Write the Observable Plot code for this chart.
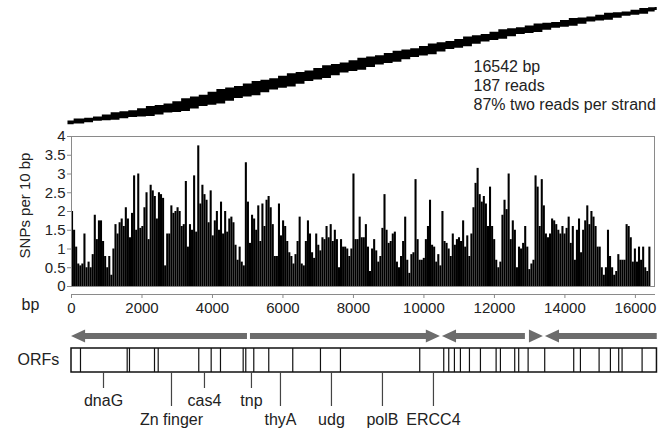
<!DOCTYPE html>
<html><head><meta charset="utf-8">
<script src="https://cdn.jsdelivr.net/npm/d3@7"></script>
<script src="https://cdn.jsdelivr.net/npm/@observablehq/plot@0.6"></script>
<style>
html,body{margin:0;padding:0;background:#fff;}
#chart{position:relative;width:670px;height:428px;overflow:hidden;}
#chart svg{position:absolute;left:0;overflow:visible;}
</style></head><body><div id="chart"></div>
<script>
const FONT = '"Liberation Sans", Arial, Helvetica, sans-serif';
const genomeLength = 16542;
const snpEnd = 16440;
const snpPerTenBp = [
 2.0,1.5,1.05,0.6,0.55,0.6,1.4,0.5,0.65,0.5,0.85,1.9,1.25,1.75,1.75,1.2,0.8,0.5,0.8,0.3,1.0,1.65,1.4,1.7,1.8,1.6,2.1,1.8,1.3,1.95,2.95,1.5,3.0,1.55,1.6,2.1,2.5,1.25,2.7,2.55,2.4,1.8,2.5,2.45,2.35,
 0.55,1.4,1.4,2.15,1.95,2.0,2.1,2.0,1.6,1.65,2.8,1.05,1.65,1.5,2.95,1.45,3.75,2.2,2.7,2.45,2.3,1.7,2.55,1.35,1.75,2.0,1.5,2.25,1.4,2.0,1.45,1.8,1.85,1.7,1.1,0.7,1.05,0.65,0.55,3.3,2.25,1.15,1.9,1.8,1.5,2.15,1.2,
 2.2,1.6,2.3,2.4,2.1,1.65,0.8,0.8,2.2,1.35,1.75,1.6,1.2,0.9,0.8,0.6,0.85,1.2,1.85,0.6,0.55,1.2,1.75,1.4,0.9,0.75,1.4,1.1,0.95,1.3,1.25,1.6,1.3,1.65,1.2,1.5,1.25,0.5,1.25,1.05,1.05,1.0,0.8,1.0,3.0,1.25,1.25,1.85,1.3,
 1.3,1.65,1.05,0.4,1.0,1.25,0.95,0.65,0.8,1.55,2.45,1.5,1.15,1.2,1.4,1.45,0.65,0.5,0.8,1.2,1.85,0.7,0.35,0.85,0.9,2.85,1.25,0.7,0.7,0.75,1.25,1.6,2.3,1.1,1.05,0.65,0.85,0.55,2.0,1.2,1.15,1.0,0.8,1.4,1.1,1.25,
 1.3,1.2,1.75,1.05,1.35,0.8,1.4,2.1,2.75,3.15,2.45,2.25,2.4,2.2,1.6,2.65,1.6,1.25,0.7,0.5,0.65,1.9,2.3,2.05,3.0,1.25,1.75,1.5,0.5,1.05,1.0,1.15,1.6,1.05,0.45,0.6,0.7,2.95,2.65,1.6,2.85,2.15,1.4,1.3,1.4,1.8,
 1.75,1.65,1.5,1.4,1.6,1.4,1.55,1.85,1.15,1.6,0.7,1.5,1.8,0.9,1.5,1.75,2.15,1.65,2.0,1.85,1.6,1.05,1.05,0.5,0.3,0.5,1.5,0.8,0.5,0.3,0.4,0.85,0.7,0.7,0.7,1.65,1.6,1.3,0.65,1.0,0.65,1.05,0.7,1.05,0.5,0.4,1.05
];
const yTicks = [0,0.5,1,1.5,2,2.5,3,3.5,4];
const xTicks = [0,2000,4000,6000,8000,10000,12000,14000,16000];
const tileBp = [-100,250,500,750,1000,1250,1500,1750,2000,2250,2500,2750,3000,3250,3500,3750,4000,4250,4500,4750,5000,5250,5500,5750,6000,6250,6500,6750,7000,7250,7500,7750,8000,8250,8500,8750,9000,9250,9500,9750,10000,10250,10500,10750,11000,11250,11500,11750,12000,12250,12500,12750,13000,13250,13500,13750,14000,14250,14500,14750,15000,15250,15500,15750,16000,16250,16500,16620];
const tileLow = [1.0,2.2,4.4,6.8,7.6,8.2,10.7,12.9,13.7,14.5,16.9,19.8,20.7,22.4,26.4,30.3,32.2,34.3,38.7,43.0,45.4,47.6,52.4,56.9,59.4,61.6,66.1,70.3,72.9,75.0,79.6,83.8,86.3,88.2,92.6,96.6,98.9,101.0,105.0,108.8,111.1,113.2,117.4,121.3,123.6,125.7,129.7,133.5,135.8,137.9,141.9,145.3,147.1,148.7,152.2,155.4,157.0,158.5,162.0,165.3,167.1,168.4,171.6,174.7,176.3,178.0,181.6,184.0];
const tileHigh = [7.0,10.3,11.6,13.4,16.8,20.4,21.9,23.6,26.9,30.5,32.1,34.2,37.9,42.8,45.6,48.5,53.0,57.5,59.9,62.2,66.2,70.3,72.4,74.7,78.6,82.8,84.9,87.3,91.3,95.5,97.6,99.8,103.5,107.5,109.4,111.4,114.9,118.8,120.6,122.7,126.3,130.3,132.2,134.1,137.6,141.5,143.3,145.4,149.0,152.9,154.7,156.1,159.1,162.3,163.4,164.8,167.8,170.9,172.0,173.4,176.3,179.4,180.4,181.6,184.3,187.1,188.0,188.5];
const readCount = 187;
const summaryLines = ["16542 bp","187 reads","87% two reads per strand"];
const strandTail = [4993,5078,12879,12993,16620];
const strandTip  = [0,10468,10525,13390,13447];
const orfEnd = 16612;
const orfBoundaries = [255,1580,1645,2355,2460,3611,3963,4227,4871,4945,5172,5597,6278,7064,7631,9881,10562,10704,10865,11035,11291,11603,12048,12170,12576,12689,12956,13427,14250,14440,14970,15291,15526,15622,16190];
const geneNames = ["dnaG","Zn finger","cas4","tnp","thyA","udg","polB","ERCC4"];
const genePos   = [908,2837,3773,5106,5929,7376,8823,10270];

const root = document.getElementById("chart");
const W = 670;
const xs = {domain:[0,genomeLength], range:[71,654], axis:null};
function place(svg, top){ svg.style.top = top+"px"; root.appendChild(svg); }

// top: read tiling
const tileData = tileBp.map((x,i)=>({x, lo:tileLow[i], hi:tileHigh[i]}));
place(Plot.plot({
  width:W, height:130, marginLeft:71, marginRight:16, marginTop:8, marginBottom:5,
  style:{fontFamily:FONT, fontSize:"16px", background:"transparent", overflow:"visible"},
  x:xs, y:{domain:[0,readCount], axis:null},
  marks:[
    Plot.areaY(tileData,{x:"x", y1:"lo", y2:"hi", fill:"black", curve:"step"}),
    Plot.text([summaryLines.join("\n")],{frameAnchor:"top-left", dx:402, dy:50, textAnchor:"start", lineAnchor:"top", lineHeight:1.19, fill:"#222"})
  ]
}), 0);

// middle: SNP density
const binW = snpEnd / snpPerTenBp.length;
const bins = snpPerTenBp.map((v,i)=>({x1:i*binW, x2:(i+1)*binW, v}));
place(Plot.plot({
  width:W, height:200, marginLeft:71, marginRight:16, marginTop:11, marginBottom:39,
  style:{fontFamily:FONT, fontSize:"16px", color:"#222", background:"transparent", overflow:"visible"},
  x:{domain:[0,genomeLength], range:[71,654]}, y:{domain:[0,4]},
  marks:[
    Plot.rectY(bins,{x1:"x1", x2:"x2", y:"v", fill:"black"}),
    Plot.frame({stroke:"#8a8a8a"}),
    Plot.axisY({ticks:yTicks, tickSize:4, tickPadding:2, tickFormat:d=>String(d), label:null, stroke:"#8a8a8a", fill:"#222", fontSize:15}),
    Plot.axisX({ticks:xTicks, tickSize:4, tickPadding:4, dy:8, tickFormat:d=>String(d), label:null, stroke:"#8a8a8a", fill:"#222", fontSize:15}),
    Plot.frame({anchor:"bottom", dy:8, stroke:"#8a8a8a"}),
    Plot.text(["SNPs per 10 bp"],{frameAnchor:"left", dx:-46, dy:-6, rotate:-90, textAnchor:"middle", fill:"#222", fontSize:15}),
    Plot.text(["bp"],{frameAnchor:"bottom-left", dx:-41, dy:23, textAnchor:"middle", fill:"#222"})
  ]
}), 125);

// bottom: strands and ORFs
const arrowY = 21, shaftH = 3, headH = 6.5, headLen = 400;
const arrowPts = strandTail.flatMap((tail,i)=>{
  const tip = strandTip[i], dir = Math.sign(tip-tail);
  const hl = Math.min(headLen, Math.abs(tip-tail)), base = tip - dir*hl;
  const pts = [{x:tail,h:shaftH},{x:base,h:shaftH},{x:base,h:headH},{x:tip,h:0}];
  if (dir < 0) pts.reverse();
  return pts.map(p=>({...p, id:i}));
});
const upperTier = new Set(["dnaG","cas4","tnp"]);
const genes = geneNames.map((name,i)=>({name, pos:genePos[i], up:upperTier.has(name)}));
place(Plot.plot({
  width:W, height:113, marginLeft:71, marginRight:16, marginTop:0, marginBottom:0,
  style:{fontFamily:FONT, fontSize:"16px", background:"transparent", overflow:"visible"},
  x:xs, y:{domain:[0,113], range:[0,113], axis:null},
  marks:[
    Plot.areaY(arrowPts,{x:"x", y1:d=>arrowY-d.h, y2:d=>arrowY+d.h, z:"id", fill:"#6c6c6c"}),
    Plot.rect([{x1:0,x2:orfEnd}],{x1:"x1", x2:"x2", y1:33, y2:57, fill:"white", stroke:"#111", strokeWidth:1.5}),
    Plot.ruleX(orfBoundaries,{y1:33, y2:57, stroke:"#111", strokeWidth:1.2}),
    Plot.ruleX(genes,{x:"pos", y1:57, y2:d=>d.up?73:91, stroke:"#444", strokeWidth:1.2}),
    Plot.text(genes,{x:"pos", y:d=>d.up?85:104, text:"name", fill:"#222"}),
    Plot.text(["ORFs"],{frameAnchor:"left", y:44, dx:-54, textAnchor:"start", fill:"#222"})
  ]
}), 315);
</script></body></html>
